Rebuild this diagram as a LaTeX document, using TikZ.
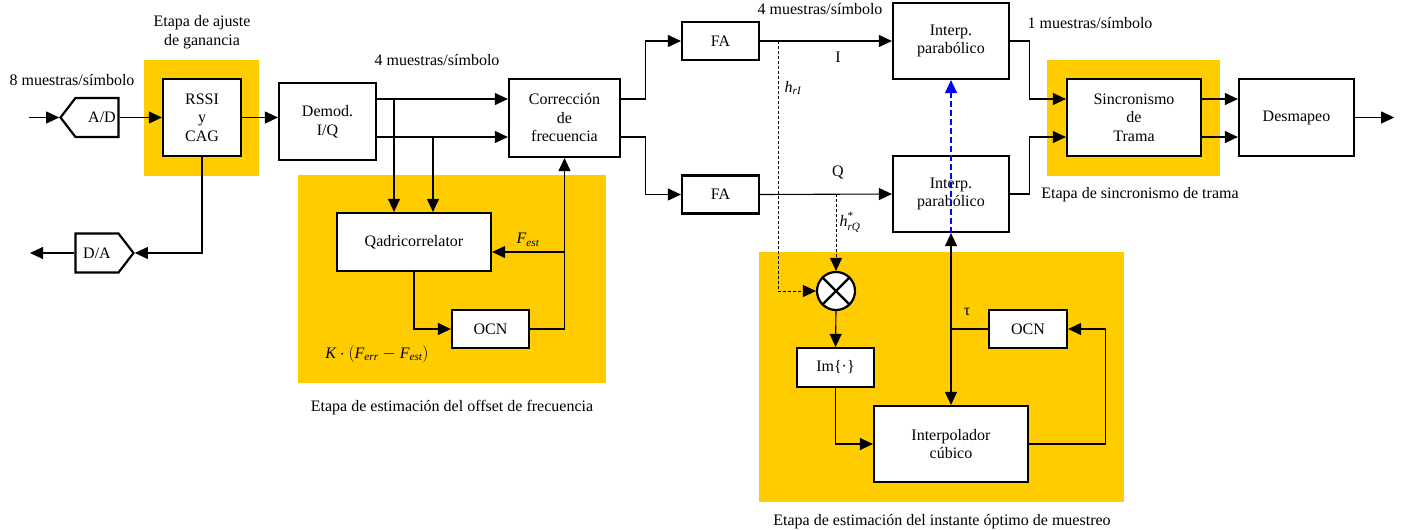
\documentclass[tikz,border=0pt]{standalone}
\usepackage{fontspec}
\usepackage{amsmath}
\setmainfont{Liberation Serif}
\usetikzlibrary{arrows.meta, shapes.symbols}
\definecolor{stagebg}{RGB}{255,204,0}
\definecolor{timing}{RGB}{0,0,255}

\begin{document}
\begin{tikzpicture}[x=1pt, y=-1pt,
  blk/.style={rectangle, draw, line width=2.2pt, fill=white, inner sep=0pt,
    font=\fontsize{16}{18.5}\selectfont, align=center},
  conv/.style={signal, signal to=#1, draw, line width=2.2pt, fill=white, inner sep=0pt,
    minimum width=58pt, minimum height=39pt, signal pointer angle=105,
    font=\fontsize{16}{18.5}\selectfont},
  lbl/.style={inner sep=0pt, font=\fontsize{16}{18.5}\selectfont, align=center},
  stage/.style={fill=stagebg, draw=none},
  arrow/.style={-{Triangle[length=13pt,width=12pt]}, line width=1.1pt},
  tap/.style={arrow, dash pattern=on 3pt off 2pt, line width=0.9pt}
]
\useasboundingbox (0,0) rectangle (1403,530);

\fill[stage] (144,60) rectangle (259,176);
\fill[stage] (298,175) rectangle (606,383);
\fill[stage] (1047,60) rectangle (1220,176);
\fill[stage] (759,252) rectangle (1124,502);

\coordinate (rowI) at (0,99);
\coordinate (rowQ) at (0,137);
\coordinate (rowF) at (0,252);

\node[conv=west] (ad) at (97,117.5) {\hspace{10pt}A/D};
\node[conv=east] (da) at (97,253) {D/A\hspace{10pt}};
\node[blk, minimum width=78pt, minimum height=77pt] (rssi) at (202,117.5) {RSSI\\y\\CAG};
\node[blk, minimum width=97pt, minimum height=77pt] (demod) at (327.5,121.5) {Demod.\\I/Q};
\node[blk, minimum width=111pt, minimum height=78pt] (corr) at (564.5,118) {Corrección\\de\\frecuencia};
\node[blk, minimum width=154pt, minimum height=58pt] (qadri) at (414,242) {Qadricorrelator};
\node[blk, minimum width=77pt, minimum height=38pt] (ocna) at (490.5,329) {OCN};
\node[blk, minimum width=77pt, minimum height=38pt] (fa1) at (720.5,41) {FA};
\node[blk, minimum width=77pt, minimum height=38pt] (fa2) at (720.5,194.5) {FA};
\node[blk, minimum width=116pt, minimum height=76pt] (interp1) at (951,41) {Interp.\\parabólico};
\node[blk, minimum width=116pt, minimum height=76pt] (interp2) at (951,194) {Interp.\\parabólico};
\node[blk, minimum width=134pt, minimum height=77pt] (sinc) at (1134,117.5) {Sincronismo\\de\\Trama};
\node[blk, minimum width=115pt, minimum height=77pt] (desm) at (1296.5,117.5) {Desmapeo};
\node[blk, circle, minimum size=38pt] (mult) at (836,291) {};
\node[blk, minimum width=77pt, minimum height=39pt] (imb) at (835.5,367.5) {Im\{·\}};
\node[blk, minimum width=78pt, minimum height=38pt] (ocnb) at (1028,329) {OCN};
\node[blk, minimum width=154pt, minimum height=76pt] (cubic) at (951,444) {Interpolador\\cúbico};
\draw[line width=2.2pt] (mult.north east) -- (mult.south west) (mult.north west) -- (mult.south east);

\coordinate (in) at (29,117.5);
\coordinate (out) at (30,253);
\coordinate (tapdI) at (394,99);
\coordinate (tapdQ) at (433,137);
\coordinate (hI) at (778,41);
\coordinate (hQ) at (836,194);

\draw[arrow] (in) -- (ad.west);
\draw[arrow] (ad.east) -- (rssi.west);
\draw[arrow] (rssi.east) -- (rssi.east -| demod.west);
\draw[arrow] (rssi.south) |- (da.east);
\draw[arrow] (da.west) -- (out);
\draw[arrow] (demod.east |- rowI) -- (corr.west |- rowI);
\draw[arrow] (demod.east |- rowQ) -- (corr.west |- rowQ);
\draw[arrow] (tapdI) -- (tapdI |- qadri.north);
\draw[arrow] (tapdQ) -- (tapdQ |- qadri.north);
\draw[arrow] (qadri.south) |- (ocna.west);
\draw[arrow] (ocna.east) -| (corr.south);
\draw[arrow] (corr.south |- rowF) -- (qadri.east |- rowF);
\draw[arrow] (corr.east |- rowI) -- ++(24,0) |- (fa1.west);
\draw[arrow] (corr.east |- rowQ) -- ++(24,0) |- (fa2.west);
\draw[arrow] (fa1.east) -- (interp1.west);
\draw[arrow] (fa2.east) -- (interp2.west);
\draw[arrow] (interp1.east) -- ++(19,0) |- (sinc.west |- rowI);
\draw[arrow] (interp2.east) -- ++(19,0) |- (sinc.west |- rowQ);
\draw[arrow] (sinc.east |- rowI) -- (desm.west |- rowI);
\draw[arrow] (sinc.east |- rowQ) -- (desm.west |- rowQ);
\draw[arrow] (desm.east) -- ++(39,0);
\draw[tap] (hI) |- (mult.west);
\draw[tap] (hQ) -- (mult.north);
\draw[arrow] (mult.south) -- (imb.north);
\draw[arrow] (imb.south) |- (cubic.west);
\draw[arrow] (cubic.east) -- ++(76,0) |- (ocnb.east);
\draw[line width=1.1pt] (ocnb.west) -- (ocnb.west -| interp2.south);
\draw[arrow, {Triangle[length=13pt,width=12pt]}-{Triangle[length=13pt,width=12pt]}] (interp2.south) -- (cubic.north);
\draw[arrow, timing, dash pattern=on 6pt off 3pt] (interp2.south) -- (interp1.south);

\node[lbl] (lgain) at (202,32) {Etapa de ajuste\\de ganancia};
\node[lbl] (l8) at (72,80) {8 muestras/símbolo};
\node[lbl] (l4a) at (437,60) {4 muestras/símbolo};
\node[lbl] (l4b) at (820,9) {4 muestras/símbolo};
\node[lbl] (l1) at (1090,23) {1 muestras/símbolo};
\node[lbl] (li) at (838,57) {I};
\node[lbl] (lq) at (838,172) {Q};
\node[lbl] (lhi) at (793,88) {$\textit{h}_{\textit{rI}}$};
\node[lbl] (lhq) at (850,222) {$\textit{h}^{\text{*}}_{\textit{rQ}}$};
\node[lbl] (lfest) at (528,240) {$\textit{F}_{\textit{est}}$};
\node[lbl] (lerr) at (377,354) {$\textit{K}\cdot\left(\textit{F}_{\textit{err}}-\textit{F}_{\textit{est}}\right)$};
\node[lbl] (ltau) at (967,312) {τ};
\node[lbl] (lofs) at (452,408) {Etapa de estimación del offset de frecuencia};
\node[lbl] (lsync) at (1140,195) {Etapa de sincronismo de trama};
\node[lbl] (linst) at (942,522) {Etapa de estimación del instante óptimo de muestreo};
\end{tikzpicture}
\end{document}
